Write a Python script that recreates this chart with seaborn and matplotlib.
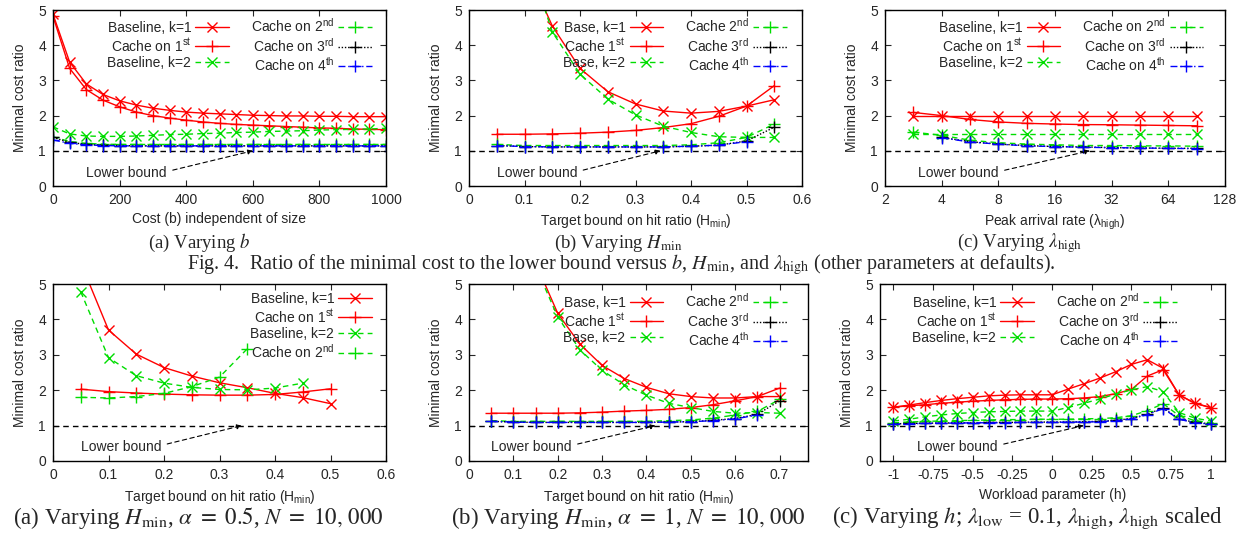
import numpy as np
import matplotlib
matplotlib.use("Agg")
import matplotlib.pyplot as plt
import seaborn as sns

sns.set_style("ticks")
plt.rcParams["font.family"] = ["Liberation Sans", "DejaVu Sans"]
plt.rcParams["font.size"] = 10
plt.rcParams["xtick.direction"] = "in"
plt.rcParams["ytick.direction"] = "in"
plt.rcParams["xtick.top"] = True
plt.rcParams["ytick.right"] = True
plt.rcParams["xtick.minor.visible"] = False
plt.rcParams["ytick.minor.visible"] = False

nan = np.nan
LOWER_BOUND = 1.0

# --- Fig. 4 (a): varying b ---
b_vals = [0, 50, 100, 150, 200, 250, 300, 350, 400, 450, 500, 550, 600, 650, 700, 750, 800, 850, 900, 950, 1000]
a_base1 = [4.88, 3.52, 2.90, 2.60, 2.42, 2.30, 2.21, 2.15, 2.10, 2.07, 2.05, 2.03, 2.01, 2.00, 1.99, 1.99, 1.98, 1.98, 1.97, 1.97, 1.97]
a_cache1 = [4.82, 3.34, 2.74, 2.44, 2.25, 2.10, 2.00, 1.93, 1.87, 1.82, 1.78, 1.75, 1.73, 1.71, 1.69, 1.67, 1.65, 1.64, 1.62, 1.61, 1.60]
a_base2 = [1.68, 1.48, 1.42, 1.41, 1.41, 1.42, 1.44, 1.46, 1.47, 1.49, 1.50, 1.52, 1.53, 1.55, 1.56, 1.57, 1.59, 1.60, 1.61, 1.62, 1.64]
a_cache2 = [1.40, 1.26, 1.21, 1.19, 1.18, 1.18, 1.18, 1.18, 1.18, 1.18, 1.18, 1.18, 1.18, 1.18, 1.18, 1.18, 1.18, 1.18, 1.18, 1.18, 1.18]
a_cache3 = [1.38, 1.24, 1.18, 1.16, 1.15, 1.14, 1.14, 1.14, 1.14, 1.14, 1.14, 1.14, 1.14, 1.14, 1.14, 1.14, 1.14, 1.14, 1.14, 1.14, 1.14]
a_cache4 = [1.31, 1.21, 1.17, 1.15, 1.14, 1.14, 1.14, 1.14, 1.14, 1.14, 1.14, 1.14, 1.14, 1.14, 1.14, 1.14, 1.14, 1.14, 1.14, 1.14, 1.14]

# --- Fig. 4 (b): varying H_min ---
hb_vals = [0.05, 0.10, 0.15, 0.20, 0.25, 0.30, 0.35, 0.40, 0.45, 0.50, 0.55]
b_base1 = [9.0, 6.3, 4.55, 3.34, 2.68, 2.33, 2.13, 2.07, 2.12, 2.27, 2.45]
b_cache1 = [1.47, 1.47, 1.48, 1.50, 1.53, 1.58, 1.66, 1.77, 1.98, 2.27, 2.85]
b_base2 = [10.0, 6.8, 4.38, 3.18, 2.47, 2.02, 1.70, 1.52, 1.40, 1.38, 1.38]
b_cache2 = [1.18, 1.15, 1.15, 1.15, 1.15, 1.15, 1.15, 1.17, 1.23, 1.38, 1.76]
b_cache3 = [1.15, 1.12, 1.11, 1.11, 1.11, 1.11, 1.11, 1.13, 1.16, 1.28, 1.67]
b_cache4 = [1.15, 1.12, 1.11, 1.11, 1.11, 1.11, 1.11, 1.13, 1.16, 1.26, nan]

# --- Fig. 4 (c): varying lambda_high ---
lam_vals = [2.83, 4, 5.66, 8, 11.3, 16, 22.6, 32, 45.3, 64, 90.5]
c_base1 = [2.00, 2.00, 2.00, 2.00, 2.00, 2.00, 2.00, 2.00, 2.00, 2.00, 2.00]
c_cache1 = [2.09, 2.00, 1.89, 1.82, 1.78, 1.76, 1.745, 1.74, 1.73, 1.72, 1.71]
c_base2 = [1.48, 1.48, 1.48, 1.48, 1.48, 1.48, 1.48, 1.48, 1.48, 1.48, 1.48]
c_cache2 = [1.53, 1.44, 1.30, 1.23, 1.19, 1.17, 1.15, 1.15, 1.14, 1.14, 1.13]
c_cache3 = [nan, 1.38, 1.26, 1.19, 1.15, 1.12, 1.11, 1.09, 1.08, 1.07, 1.07]
c_cache4 = [nan, 1.37, 1.25, 1.19, 1.14, 1.12, 1.10, 1.09, 1.08, 1.07, 1.06]

# --- Fig. 5 (a): varying H_min, alpha = 0.5 ---
hd_vals = [0.05, 0.10, 0.15, 0.20, 0.25, 0.30, 0.35, 0.40, 0.45, 0.50]
d_base1 = [5.6, 3.70, 3.02, 2.64, 2.40, 2.21, 2.07, 1.91, 1.79, 1.62]
d_cache1 = [2.03, 1.96, 1.92, 1.89, 1.87, 1.86, 1.86, 1.88, 1.95, 2.04]
d_base2 = [4.78, 2.92, 2.41, 2.20, 2.08, 2.02, 2.01, 2.06, 2.20, nan]
d_cache2 = [1.80, 1.78, 1.82, 1.91, 2.10, 2.37, 3.17, nan, nan, nan]

# --- Fig. 5 (b): varying H_min, alpha = 1 ---
he_vals = [0.05, 0.10, 0.15, 0.20, 0.25, 0.30, 0.35, 0.40, 0.45, 0.50, 0.55, 0.60, 0.65, 0.70]
e_base1 = [10.0, 7.5, 5.6, 4.17, 3.30, 2.70, 2.33, 2.08, 1.90, 1.82, 1.78, 1.78, 1.82, 1.82]
e_cache1 = [1.35, 1.35, 1.35, 1.35, 1.36, 1.38, 1.41, 1.43, 1.46, 1.51, 1.59, 1.70, 1.82, 2.06]
e_base2 = [11.0, 8.0, 5.5, 4.07, 3.14, 2.56, 2.15, 1.86, 1.63, 1.51, 1.40, 1.35, 1.37, 1.35]
e_cache2 = [1.14, 1.12, 1.12, 1.12, 1.12, 1.12, 1.12, 1.12, 1.14, 1.16, 1.21, 1.30, 1.40, 1.74]
e_cache3 = [1.12, 1.10, 1.09, 1.09, 1.09, 1.09, 1.09, 1.09, 1.10, 1.11, 1.15, 1.20, 1.32, 1.70]
e_cache4 = [1.12, 1.10, 1.09, 1.09, 1.09, 1.09, 1.09, 1.09, 1.10, 1.11, 1.14, 1.19, 1.30, nan]

# --- Fig. 5 (c): varying h ---
hf_vals = [-1.0, -0.9, -0.8, -0.7, -0.6, -0.5, -0.4, -0.3, -0.2, -0.1, 0.0, 0.1, 0.2, 0.3, 0.4, 0.5, 0.6, 0.7, 0.8, 0.9, 1.0]
f_base1 = [1.52, 1.58, 1.65, 1.71, 1.76, 1.80, 1.84, 1.86, 1.87, 1.87, 1.87, 2.03, 2.18, 2.34, 2.52, 2.73, 2.86, 2.62, 1.87, 1.63, 1.51]
f_cache1 = [1.52, 1.56, 1.59, 1.63, 1.66, 1.69, 1.71, 1.73, 1.74, 1.75, 1.75, 1.76, 1.78, 1.82, 1.90, 2.02, 2.40, 2.58, 1.87, 1.63, 1.51]
f_base2 = [1.13, 1.18, 1.25, 1.30, 1.34, 1.37, 1.39, 1.40, 1.41, 1.41, 1.41, 1.51, 1.63, 1.75, 1.89, 2.01, 2.10, 1.96, 1.37, 1.21, 1.13]
f_cache2 = [1.08, 1.10, 1.12, 1.13, 1.14, 1.15, 1.16, 1.17, 1.17, 1.18, 1.18, 1.18, 1.19, 1.20, 1.22, 1.28, 1.42, 1.62, 1.28, 1.14, 1.08]
f_cache3 = [1.05, 1.06, 1.07, 1.07, 1.08, 1.08, 1.09, 1.09, 1.09, 1.10, 1.10, 1.10, 1.11, 1.12, 1.15, 1.20, 1.32, 1.50, 1.19, 1.09, 1.05]
f_cache4 = [1.04, 1.05, 1.06, 1.07, 1.07, 1.08, 1.08, 1.08, 1.09, 1.09, 1.09, 1.10, 1.10, 1.11, 1.14, 1.19, 1.31, 1.48, 1.18, 1.08, 1.04]

long_labels = ["Baseline, k=1", r"Cache on 1$^\mathregular{st}$", "Baseline, k=2",
               r"Cache on 2$^\mathregular{nd}$", r"Cache on 3$^\mathregular{rd}$", r"Cache on 4$^\mathregular{th}$"]
short_labels = ["Base, k=1", r"Cache 1$^\mathregular{st}$", "Base, k=2",
                r"Cache 2$^\mathregular{nd}$", r"Cache 3$^\mathregular{rd}$", r"Cache 4$^\mathregular{th}$"]

RED, GREEN, BLUE = "#ff0000", "#00dd00", "#0000ff"
styles = [
    dict(color=RED, marker="x", linestyle="-", ms=7),
    dict(color=RED, marker="+", linestyle="-", ms=8),
    dict(color=GREEN, marker="x", linestyle=(0, (4, 3)), ms=7),
    dict(color=GREEN, marker="+", linestyle=(0, (4, 3)), ms=8),
    dict(color="black", marker="+", linestyle=(0, (1, 1.3)), ms=8),
    dict(color=BLUE, marker="+", linestyle=(0, (5, 2, 1, 2)), ms=8),
]


def draw_panel(ax, x, series, labels, xlim, xticks, xticklabels, xlabel,
               note_text, note_tip, leg_anchor, ncol=2):
    for y, lab, st in zip(series, labels, styles):
        sns.lineplot(x=x, y=y, ax=ax, label=lab, lw=1.0, mew=1.0, mec=st["color"],
                     mfc="none", estimator=None, sort=False, **st)
    ax.axhline(LOWER_BOUND, color="black", ls=(0, (4, 3)), lw=1.0, zorder=1)
    ax.annotate("Lower bound", xy=(note_tip, LOWER_BOUND), xytext=note_text,
                ha="left", va="center", fontsize=10,
                arrowprops=dict(arrowstyle="-|>", ls=(0, (4, 3)), lw=0.8, color="black",
                                mutation_scale=7, shrinkA=2, shrinkB=0, relpos=(1, 0.6)))
    ax.set_xlim(*xlim)
    ax.set_ylim(0, 5)
    ax.set_xticks(xticks)
    ax.set_xticklabels(xticklabels)
    ax.set_yticks([0, 1, 2, 3, 4, 5])
    ax.minorticks_off()
    ax.tick_params(length=4, width=0.8, labelsize=10, pad=5)
    ax.set_xlabel(xlabel, fontsize=10, labelpad=4)
    ax.set_ylabel("Minimal cost ratio", fontsize=10, labelpad=8)
    for sp in ax.spines.values():
        sp.set_linewidth(1.0)
        sp.set_color("black")
    handles, labs = ax.get_legend_handles_labels()
    ax.legend(handles, labs, ncol=ncol, loc="upper right", bbox_to_anchor=leg_anchor,
              markerfirst=False, frameon=False, fontsize=10, handlelength=2.4,
              handletextpad=0.3, columnspacing=1.6, labelspacing=0.12,
              borderpad=0, borderaxespad=0, numpoints=1)


fig = plt.figure(figsize=(12.45, 5.35), dpi=100)
W, H = 1245.0, 535.0


def add_ax(left, right, top, bottom):
    return fig.add_axes([left / W, 1 - bottom / H, (right - left) / W, (bottom - top) / H])


ax1 = add_ax(53, 386, 10, 186)
ax2 = add_ax(469, 802, 10, 186)
ax3 = add_ax(885, 1225, 10, 186)
ax4 = add_ax(53, 386, 284, 461)
ax5 = add_ax(469, 808, 284, 461)
ax6 = add_ax(880, 1225, 284, 461)

draw_panel(ax1, b_vals, [a_base1, a_cache1, a_base2, a_cache2, a_cache3, a_cache4], long_labels,
           (0, 1000), [0, 200, 400, 600, 800, 1000], ["0", "200", "400", "600", "800", "1000"],
           "Cost (b) independent of size", (100, 0.37), 600, (0.957, 0.96))

draw_panel(ax2, hb_vals, [b_base1, b_cache1, b_base2, b_cache2, b_cache3, b_cache4], short_labels,
           (0, 0.6), [0, 0.1, 0.2, 0.3, 0.4, 0.5, 0.6], ["0", "0.1", "0.2", "0.3", "0.4", "0.5", "0.6"],
           r"Target bound on hit ratio (H$_\mathregular{min}$)", (0.05, 0.37), 0.345, (0.954, 0.96))

ax3.set_xscale("log", base=2)
draw_panel(ax3, lam_vals, [c_base1, c_cache1, c_base2, c_cache2, c_cache3, c_cache4], long_labels,
           (2, 128), [2, 4, 8, 16, 32, 64, 128], ["2", "4", "8", "16", "32", "64", "128"],
           r"Peak arrival rate (λ$_\mathregular{high}$)", (3.0, 0.37), 24.5, (0.935, 0.96))

draw_panel(ax4, hd_vals, [d_base1, d_cache1, d_base2, d_cache2], long_labels[:4],
           (0, 0.6), [0, 0.1, 0.2, 0.3, 0.4, 0.5, 0.6], ["0", "0.1", "0.2", "0.3", "0.4", "0.5", "0.6"],
           r"Target bound on hit ratio (H$_\mathregular{min}$)", (0.05, 0.4), 0.34, (0.957, 0.955), ncol=1)

draw_panel(ax5, he_vals, [e_base1, e_cache1, e_base2, e_cache2, e_cache3, e_cache4], short_labels,
           (0, 0.764), [0, 0.1, 0.2, 0.3, 0.4, 0.5, 0.6, 0.7],
           ["0", "0.1", "0.2", "0.3", "0.4", "0.5", "0.6", "0.7"],
           r"Target bound on hit ratio (H$_\mathregular{min}$)", (0.05, 0.4), 0.42, (0.937, 0.955))

draw_panel(ax6, hf_vals, [f_base1, f_cache1, f_base2, f_cache2, f_cache3, f_cache4], long_labels,
           (-1.085, 1.09), [-1, -0.75, -0.5, -0.25, 0, 0.25, 0.5, 0.75, 1],
           ["-1", "-0.75", "-0.5", "-0.25", "0", "0.25", "0.5", "0.75", "1"],
           "Workload parameter (h)", (-0.85, 0.4), 0.2, (0.86, 0.955))

# captions
cap = dict(family=["Liberation Serif", "DejaVu Serif"], math_fontfamily="stix", va="center")
fig.text(199 / W, 1 - 243 / H, r"(a) Varying $b$", ha="center", fontsize=13.5, **cap)
fig.text(618 / W, 1 - 243 / H, r"(b) Varying $H_{\min}$", ha="center", fontsize=13.5, **cap)
fig.text(1020 / W, 1 - 243 / H, r"(c) Varying $\lambda_{\mathrm{high}}$", ha="center", fontsize=13.5, **cap)
fig.text(621 / W, 1 - 265 / H,
         r"Fig. 4.  Ratio of the minimal cost to the lower bound versus $b$, $H_{\min}$, and "
         r"$\lambda_{\mathrm{high}}$ (other parameters at defaults).", ha="center", fontsize=14.5, **cap)
fig.text(198 / W, 1 - 518 / H, r"(a) Varying $H_{\min}$, $\alpha\ =\ 0.5$, $N\ =\ 10,\,000$",
         ha="center", fontsize=16.5, **cap)
fig.text(628 / W, 1 - 518 / H, r"(b) Varying $H_{\min}$, $\alpha\ =\ 1$, $N\ =\ 10,\,000$",
         ha="center", fontsize=16.5, **cap)
fig.text(832 / W, 1 - 518 / H,
         r"(c) Varying $h$; $\lambda_{\mathrm{low}}$ = 0.1, $\lambda_{\mathrm{high}}$, $\lambda_{\mathrm{high}}$ scaled",
         ha="left", fontsize=16.5, **cap)

fig.savefig("out.png", dpi=100)
